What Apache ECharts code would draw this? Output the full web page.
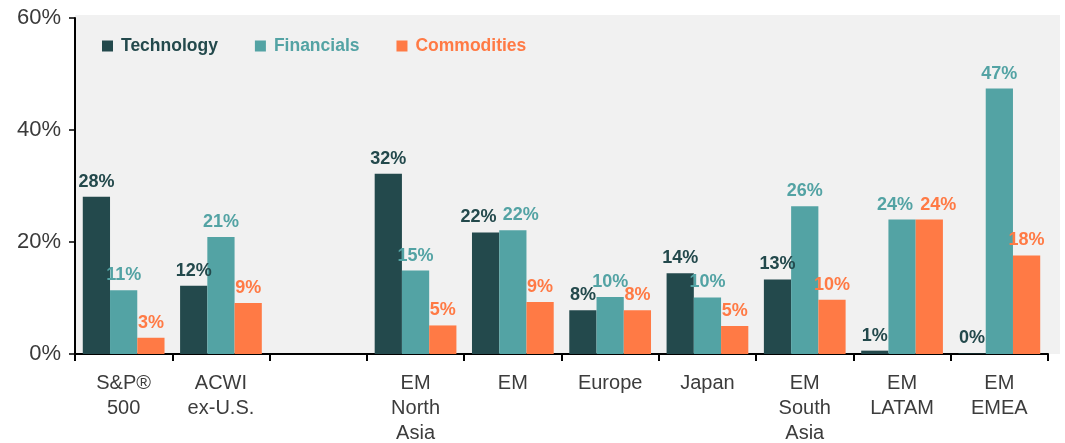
<!DOCTYPE html>
<html><head><meta charset="utf-8">
<script src="https://cdn.jsdelivr.net/npm/echarts@6/dist/echarts.min.js"></script>
<style>html,body{margin:0;padding:0;background:#fff}#c{width:1065px;height:443px}</style>
</head><body><div id="c"></div>
<script>
const categories = ['S&P®\n500', 'ACWI\nex-U.S.', '', 'EM\nNorth\nAsia', 'EM', 'Europe', 'Japan', 'EM\nSouth\nAsia', 'EM\nLATAM', 'EM\nEMEA'];
const technology = [28.1, 12.2, null, 32.2, 21.7, 7.8, 14.4, 13.3, 0.6, 0.1];
const financials = [11.4, 20.9, null, 14.9, 22.1, 10.2, 10.1, 26.4, 24.0, 47.4];
const commodities = [2.9, 9.1, null, 5.1, 9.3, 7.8, 5.0, 9.7, 24.0, 17.6];
const yTicks = [0, 20, 40, 60];

const colors = {Technology: '#23494c', Financials: '#53a3a4', Commodities: '#ff7a45'};
const font = 'Liberation Sans, Arial, sans-serif';
// horizontal label nudges where neighbouring labels would collide (style only)
const labelNudge = {
  Technology: {4: -7},
  Financials: {4: 8, 8: -7},
  Commodities: {8: 9}
};

function mk(name, data) {
  return {
    name, type: 'bar', barGap: '0%', barCategoryGap: '16%',
    data: data.map((v, i) => {
      const dx = labelNudge[name][i];
      return dx ? {value: v, label: {offset: [dx, 0]}} : v;
    }),
    itemStyle: {color: colors[name]},
    label: {
      show: true, position: 'top', distance: 6,
      color: colors[name], fontFamily: font, fontWeight: 'bold', fontSize: 18,
      formatter: p => (p.value == null ? '' : Math.round(p.value) + '%')
    }
  };
}

const chart = echarts.init(document.getElementById('c'));
chart.setOption({
  animation: false,
  backgroundColor: '#fff',
  graphic: [{type: 'rect', z: -10, shape: {x: 75, y: 15, width: 985, height: 339}, style: {fill: '#f1f1f1'}}],
  grid: {left: 75, right: 17, top: 18, bottom: 89, outerBoundsMode: 'none', containLabel: false},
  legend: {
    left: 97, top: 32, itemWidth: 11, itemHeight: 11, itemGap: 37, icon: 'rect',
    data: ['Technology', 'Financials', 'Commodities'].map(n => ({name: n, textStyle: {color: colors[n]}})),
    textStyle: {fontFamily: font, fontWeight: 'bold', fontSize: 17.5, padding: [0, 0, 0, 3]}
  },
  xAxis: {
    type: 'category', data: categories,
    axisLine: {lineStyle: {color: '#000', width: 2}},
    axisTick: {show: true, length: 7, lineStyle: {color: '#000', width: 2}},
    axisLabel: {color: '#3c3c3c', fontFamily: font, fontSize: 20, lineHeight: 25, margin: 17, interval: 0}
  },
  yAxis: {
    type: 'value', min: 0, max: 60, interval: 20,
    splitLine: {show: false},
    axisLine: {show: true, lineStyle: {color: '#000', width: 2}},
    axisTick: {show: true, length: 6, lineStyle: {color: '#000', width: 1.5}},
    axisLabel: {color: '#3a3a3a', fontFamily: font, fontSize: 22, margin: 14, formatter: v => yTicks.includes(v) ? v + '%' : ''}
  },
  series: [mk('Technology', technology), mk('Financials', financials), mk('Commodities', commodities)]
});
</script></body></html>
